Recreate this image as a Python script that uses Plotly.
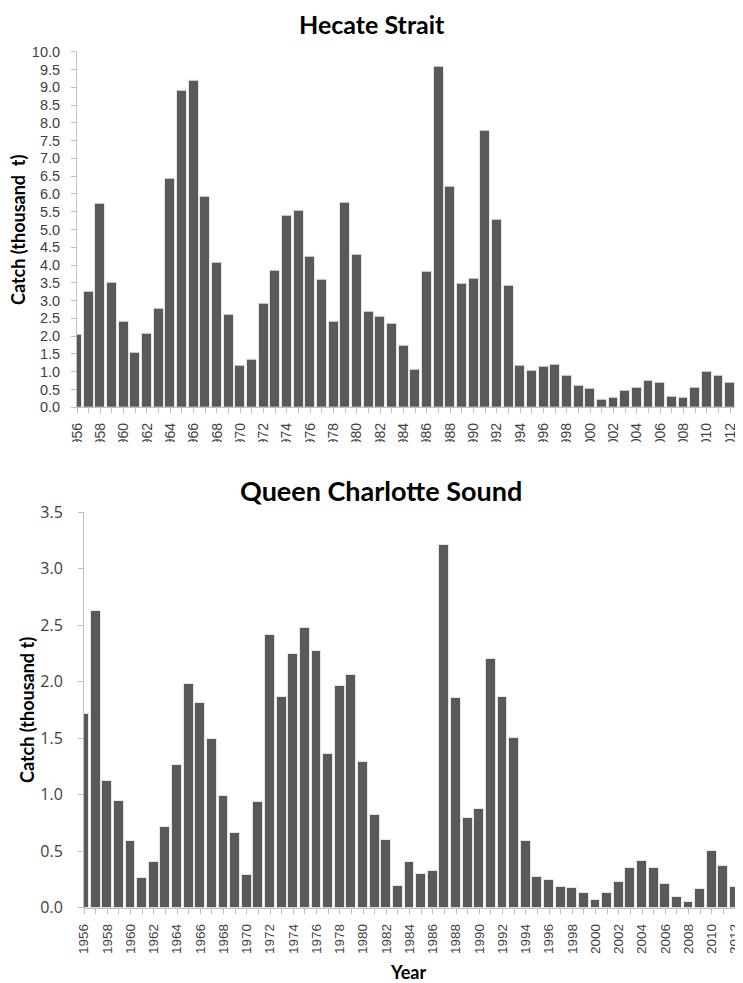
import plotly.graph_objects as go

# ---- data ----
years_hs = list(range(1956, 2014))
catch_hs = [2.03, 3.25, 5.72, 3.51, 2.41, 1.54, 2.08, 2.76, 6.42, 8.89,
            9.18, 5.92, 4.06, 2.60, 1.18, 1.33, 2.91, 3.83, 5.38, 5.53,
            4.23, 3.60, 2.41, 5.75, 4.28, 2.68, 2.54, 2.36, 1.72, 1.07,
            3.80, 9.57, 6.19, 3.48, 3.62, 7.77, 5.27, 3.41, 1.17, 1.03,
            1.15, 1.19, 0.88, 0.62, 0.53, 0.22, 0.28, 0.48, 0.56, 0.75,
            0.68, 0.29, 0.27, 0.56, 1.01, 0.89, 0.70, 0.62]

years_qcs = list(range(1956, 2013))
catch_qcs = [1.71, 2.62, 1.12, 0.94, 0.59, 0.26, 0.40, 0.71, 1.26, 1.98,
             1.81, 1.49, 0.99, 0.66, 0.29, 0.93, 2.41, 1.86, 2.24, 2.47,
             2.27, 1.36, 1.96, 2.06, 1.29, 0.82, 0.60, 0.19, 0.40, 0.30,
             0.32, 3.21, 1.85, 0.79, 0.87, 2.20, 1.86, 1.50, 0.59, 0.27,
             0.24, 0.18, 0.17, 0.13, 0.07, 0.13, 0.23, 0.35, 0.41, 0.35,
             0.21, 0.09, 0.05, 0.16, 0.50, 0.37, 0.18]

title_hs = "Hecate Strait"
title_qcs = "Queen Charlotte Sound"
ytitle_hs = "Catch (thousand  t)"
ytitle_qcs = "Catch (thousand t)"
xtitle = "Year"
hs_ticks = [y for y in years_hs if y % 2 == 0 and y <= 2012]
qcs_ticks = [y for y in years_qcs if y % 2 == 0]

# the page body has an 8px margin, so the figure is 8px smaller on each side
OFF = 8
W, H = 743 - OFF, 983 - OFF
def px_x(x):
    return (x - OFF) / W
def px_y(y):
    return 1 - (y - OFF) / H

BAR = "#595959"
EDGE = "#e6e6e6"
AX = "#bfbfbf"
TXT = "#404040"

fig = go.Figure()
fig.add_trace(go.Bar(x=years_hs, y=catch_hs, width=0.85, xaxis="x", yaxis="y",
                     marker=dict(color=BAR, line=dict(color=EDGE, width=1)),
                     showlegend=False, cliponaxis=True))
fig.add_trace(go.Bar(x=years_qcs, y=catch_qcs, width=0.85, xaxis="x2", yaxis="y2",
                     marker=dict(color=BAR, line=dict(color=EDGE, width=1)),
                     showlegend=False, cliponaxis=True))

common_x = dict(showgrid=False, zeroline=False, showline=True, linecolor=AX, linewidth=1,
                automargin=False,
                ticks="outside", ticklen=5, tickcolor=AX, tickangle=-90,
                minor=dict(dtick=1, ticks="outside", ticklen=5, tickcolor=AX))
common_y = dict(showgrid=False, zeroline=False, showline=True, linecolor=AX, linewidth=1,
                automargin=False,
                ticks="outside", ticklen=5, tickcolor=AX)

fig.update_layout(
    template="none",
    width=W, height=H, margin=dict(l=0, r=0, t=0, b=0, pad=0), autosize=False,
    paper_bgcolor="white", plot_bgcolor="white", bargap=0,
    xaxis=dict(common_x, domain=[px_x(77), 1.0], range=[1956, 2013.1], anchor="y",
               tickvals=hs_ticks, ticktext=[str(v) for v in hs_ticks], ticklabelstandoff=4,
               tickfont=dict(family="Liberation Sans", size=14, color=TXT)),
    yaxis=dict(common_y, domain=[px_y(407.3), px_y(51.7)], range=[0, 10], anchor="x",
               tickvals=[i * 0.5 for i in range(21)], tickformat=".1f", ticklabelstandoff=8,
               tickfont=dict(family="Liberation Sans", size=14.5, color=TXT)),
    xaxis2=dict(common_x, domain=[px_x(84), px_x(735)], range=[1956, 2012], anchor="y2",
                tickvals=qcs_ticks, ticktext=[str(v) for v in qcs_ticks], ticklabelstandoff=5,
                tickfont=dict(family="Liberation Sans", size=13.5, color=TXT)),
    yaxis2=dict(common_y, domain=[px_y(907.5), px_y(512)], range=[0, 3.5], anchor="x2",
                tickvals=[i * 0.5 for i in range(8)], tickformat=".1f", ticklabelstandoff=12,
                tickfont=dict(family="Open Sans", size=16, color=TXT)),
)

# mask the clipped lower ends of the top-panel year labels, as in the reference
fig.add_shape(type="rect", xref="paper", yref="paper", layer="above",
              x0=0, x1=1, y0=px_y(470), y1=px_y(442), fillcolor="white", line_width=0)

ann_font = dict(family="Lato", color="black")
fig.add_annotation(text="<b>%s</b>" % title_hs, xref="paper", yref="paper",
                   x=px_x(372), y=px_y(8), showarrow=False, xanchor="center", yanchor="top",
                   borderpad=0, font=dict(ann_font, size=25))
fig.add_annotation(text="<b>%s</b>" % title_qcs, xref="paper", yref="paper",
                   x=px_x(381), y=px_y(490), showarrow=False, xanchor="center", yanchor="middle",
                   font=dict(ann_font, size=27))
fig.add_annotation(text="<b>%s</b>" % ytitle_hs, xref="paper", yref="paper",
                   x=px_x(18), y=px_y(230), showarrow=False, textangle=-90,
                   xanchor="center", yanchor="middle", font=dict(ann_font, size=18))
fig.add_annotation(text="<b>%s</b>" % ytitle_qcs, xref="paper", yref="paper",
                   x=px_x(27), y=px_y(710), showarrow=False, textangle=-90,
                   xanchor="center", yanchor="middle", font=dict(ann_font, size=18))
fig.add_annotation(text="<b>%s</b>" % xtitle, xref="paper", yref="paper",
                   x=px_x(407.5), y=px_y(972), showarrow=False,
                   xanchor="center", yanchor="middle", font=dict(ann_font, size=18))

fig.write_html("out.html")
